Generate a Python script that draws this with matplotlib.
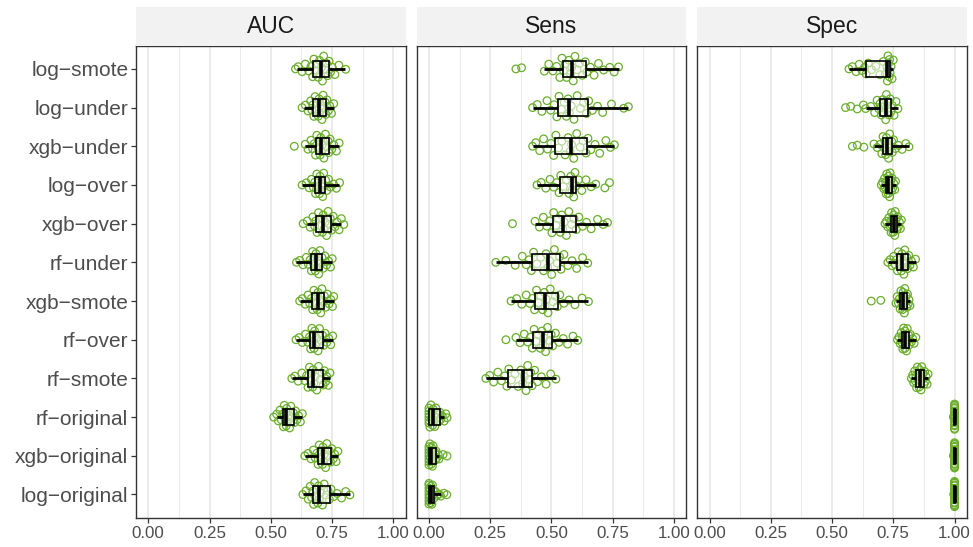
import numpy as np
import matplotlib
matplotlib.use("Agg")
import matplotlib.pyplot as plt

plt.rcParams['font.family'] = ['Liberation Sans', 'DejaVu Sans']

# ---------------- data ----------------
models = ["log\u2212smote", "log\u2212under", "xgb\u2212under", "log\u2212over", "xgb\u2212over",
          "rf\u2212under", "xgb\u2212smote", "rf\u2212over", "rf\u2212smote", "rf\u2212original",
          "xgb\u2212original", "log\u2212original"]
metrics = ["AUC", "Sens", "Spec"]
x_ticks = [0.0, 0.25, 0.5, 0.75, 1.0]
x_tick_labels = ["0.00", "0.25", "0.50", "0.75", "1.00"]

# box statistics (order = models): whisker low, Q1, median, Q3, whisker high
auc_lo  = [0.607, 0.634, 0.641, 0.628, 0.648, 0.605, 0.618, 0.603, 0.587, 0.525, 0.640, 0.632]
auc_q1  = [0.673, 0.673, 0.683, 0.680, 0.685, 0.665, 0.667, 0.662, 0.651, 0.550, 0.692, 0.673]
auc_med = [0.705, 0.696, 0.705, 0.700, 0.714, 0.684, 0.693, 0.678, 0.673, 0.564, 0.714, 0.696]
auc_q3  = [0.739, 0.726, 0.737, 0.723, 0.744, 0.709, 0.719, 0.712, 0.714, 0.596, 0.744, 0.740]
auc_hi  = [0.805, 0.757, 0.780, 0.780, 0.787, 0.750, 0.757, 0.754, 0.741, 0.628, 0.773, 0.823]

sens_lo  = [0.471, 0.423, 0.423, 0.441, 0.433, 0.273, 0.335, 0.355, 0.232, 0.000, 0.000, 0.000]
sens_q1  = [0.546, 0.525, 0.515, 0.535, 0.505, 0.419, 0.433, 0.426, 0.321, 0.000, 0.000, 0.000]
sens_med = [0.583, 0.573, 0.580, 0.583, 0.546, 0.485, 0.474, 0.464, 0.382, 0.018, 0.010, 0.008]
sens_q3  = [0.641, 0.648, 0.645, 0.600, 0.600, 0.536, 0.525, 0.502, 0.420, 0.045, 0.028, 0.020]
sens_hi  = [0.774, 0.814, 0.756, 0.682, 0.730, 0.648, 0.651, 0.607, 0.518, 0.062, 0.041, 0.048]

spec_lo  = [0.569, 0.637, 0.671, 0.700, 0.716, 0.728, 0.760, 0.767, 0.824, 0.996, 0.996, 0.997]
spec_q1  = [0.640, 0.695, 0.709, 0.719, 0.740, 0.767, 0.778, 0.787, 0.842, 0.999, 0.999, 0.999]
spec_med = [0.726, 0.719, 0.726, 0.730, 0.752, 0.787, 0.790, 0.798, 0.857, 1.000, 1.000, 1.000]
spec_q3  = [0.735, 0.740, 0.746, 0.744, 0.764, 0.808, 0.805, 0.814, 0.876, 1.000, 1.000, 1.000]
spec_hi  = [0.750, 0.769, 0.814, 0.760, 0.783, 0.842, 0.818, 0.842, 0.892, 1.000, 1.000, 1.000]

# individual resample values
auc_log_smote = [0.601, 0.612, 0.628, 0.641, 0.655, 0.664, 0.671, 0.676, 0.684, 0.689, 0.694, 0.699, 0.703,
                 0.707, 0.711, 0.716, 0.722, 0.728, 0.733, 0.738, 0.744, 0.751, 0.762, 0.778, 0.806]
auc_log_under = [0.628, 0.641, 0.652, 0.663, 0.668, 0.672, 0.676, 0.681, 0.687, 0.690, 0.694, 0.697, 0.699,
                 0.703, 0.709, 0.714, 0.718, 0.722, 0.725, 0.729, 0.735, 0.741, 0.748, 0.757]
auc_xgb_under = [0.596, 0.641, 0.652, 0.664, 0.671, 0.678, 0.683, 0.688, 0.693, 0.698, 0.702, 0.704, 0.707,
                 0.711, 0.717, 0.723, 0.729, 0.734, 0.737, 0.742, 0.749, 0.757, 0.768, 0.779]
auc_log_over = [0.628, 0.645, 0.657, 0.666, 0.674, 0.679, 0.683, 0.688, 0.692, 0.696, 0.699, 0.701, 0.704,
                0.708, 0.712, 0.716, 0.721, 0.724, 0.729, 0.736, 0.744, 0.756, 0.768, 0.781]
auc_xgb_over = [0.632, 0.649, 0.661, 0.672, 0.679, 0.684, 0.689, 0.695, 0.701, 0.707, 0.711, 0.714, 0.717,
                0.722, 0.728, 0.734, 0.739, 0.743, 0.748, 0.755, 0.762, 0.771, 0.779, 0.788, 0.798]
auc_rf_under = [0.605, 0.618, 0.632, 0.645, 0.654, 0.661, 0.666, 0.671, 0.675, 0.679, 0.682, 0.684, 0.687,
                0.691, 0.696, 0.701, 0.705, 0.709, 0.714, 0.721, 0.728, 0.736, 0.744, 0.751]
auc_xgb_smote = [0.618, 0.629, 0.641, 0.652, 0.659, 0.666, 0.671, 0.676, 0.681, 0.686, 0.690, 0.693, 0.696,
                 0.700, 0.704, 0.709, 0.714, 0.719, 0.724, 0.731, 0.738, 0.745, 0.752, 0.757]
auc_rf_over = [0.603, 0.616, 0.629, 0.642, 0.651, 0.658, 0.663, 0.668, 0.672, 0.675, 0.677, 0.679, 0.682,
               0.687, 0.693, 0.699, 0.706, 0.711, 0.716, 0.722, 0.729, 0.737, 0.745, 0.753]
auc_rf_smote = [0.586, 0.598, 0.612, 0.627, 0.639, 0.646, 0.652, 0.658, 0.663, 0.667, 0.671, 0.673, 0.676,
                0.681, 0.688, 0.695, 0.703, 0.709, 0.714, 0.719, 0.724, 0.729, 0.735, 0.742]
auc_rf_original = [0.512, 0.524, 0.531, 0.538, 0.543, 0.548, 0.552, 0.555, 0.558, 0.561, 0.563, 0.565, 0.568,
                   0.572, 0.577, 0.582, 0.587, 0.592, 0.596, 0.601, 0.607, 0.614, 0.621, 0.629]
auc_xgb_original = [0.639, 0.652, 0.664, 0.674, 0.682, 0.688, 0.693, 0.698, 0.703, 0.707, 0.711, 0.713, 0.716,
                    0.719, 0.724, 0.729, 0.734, 0.739, 0.744, 0.749, 0.755, 0.761, 0.767, 0.774]
auc_log_original = [0.631, 0.644, 0.653, 0.661, 0.667, 0.671, 0.675, 0.679, 0.684, 0.688, 0.692, 0.695, 0.698,
                    0.703, 0.711, 0.718, 0.726, 0.733, 0.739, 0.746, 0.757, 0.771, 0.789, 0.806, 0.823]

sens_log_smote = [0.355, 0.378, 0.471, 0.489, 0.506, 0.521, 0.534, 0.543, 0.549, 0.556, 0.562, 0.571, 0.578,
                  0.583, 0.589, 0.596, 0.605, 0.614, 0.626, 0.638, 0.645, 0.659, 0.674, 0.692, 0.713, 0.738,
                  0.756, 0.774]
sens_log_under = [0.423, 0.442, 0.461, 0.482, 0.497, 0.511, 0.522, 0.531, 0.541, 0.552, 0.561, 0.568, 0.573,
                  0.581, 0.592, 0.605, 0.618, 0.631, 0.643, 0.652, 0.667, 0.688, 0.709, 0.745, 0.795, 0.814]
sens_xgb_under = [0.423, 0.436, 0.452, 0.468, 0.484, 0.498, 0.509, 0.518, 0.529, 0.542, 0.556, 0.568, 0.576,
                  0.582, 0.591, 0.603, 0.617, 0.629, 0.641, 0.649, 0.661, 0.678, 0.697, 0.722, 0.741, 0.757]
sens_log_over = [0.441, 0.458, 0.477, 0.494, 0.509, 0.521, 0.531, 0.538, 0.549, 0.561, 0.572, 0.579, 0.583,
                 0.587, 0.591, 0.596, 0.601, 0.611, 0.624, 0.641, 0.662, 0.681, 0.718, 0.737]
sens_xgb_over = [0.341, 0.433, 0.451, 0.467, 0.481, 0.493, 0.502, 0.509, 0.518, 0.527, 0.536, 0.542, 0.546,
                 0.552, 0.561, 0.571, 0.582, 0.592, 0.601, 0.612, 0.627, 0.643, 0.662, 0.688, 0.711, 0.729]
sens_rf_under = [0.273, 0.314, 0.352, 0.381, 0.397, 0.409, 0.418, 0.427, 0.441, 0.456, 0.468, 0.478, 0.485,
                 0.492, 0.501, 0.512, 0.524, 0.533, 0.539, 0.551, 0.567, 0.584, 0.603, 0.627, 0.648]
sens_xgb_smote = [0.335, 0.358, 0.379, 0.397, 0.412, 0.423, 0.431, 0.439, 0.447, 0.456, 0.464, 0.471, 0.474,
                  0.479, 0.486, 0.495, 0.506, 0.516, 0.524, 0.534, 0.551, 0.572, 0.596, 0.625, 0.651]
sens_rf_over = [0.314, 0.355, 0.372, 0.389, 0.403, 0.414, 0.422, 0.429, 0.437, 0.446, 0.455, 0.461, 0.464,
                0.469, 0.476, 0.484, 0.492, 0.499, 0.505, 0.516, 0.531, 0.548, 0.566, 0.588, 0.607]
sens_rf_smote = [0.232, 0.248, 0.264, 0.281, 0.296, 0.309, 0.318, 0.326, 0.337, 0.351, 0.364, 0.375, 0.382,
                 0.389, 0.396, 0.403, 0.409, 0.415, 0.421, 0.431, 0.443, 0.459, 0.478, 0.497, 0.518]
sens_rf_original = [0.0, 0.0, 0.0, 0.0, 0.0, 0.0, 0.004, 0.008, 0.009, 0.012, 0.015, 0.017, 0.018, 0.021,
                    0.024, 0.028, 0.032, 0.037, 0.041, 0.045, 0.049, 0.054, 0.062, 0.069, 0.074]
sens_xgb_original = [0.0, 0.0, 0.0, 0.0, 0.0, 0.0, 0.0, 0.004, 0.006, 0.008, 0.009, 0.010, 0.010, 0.012,
                     0.014, 0.017, 0.021, 0.024, 0.027, 0.029, 0.033, 0.038, 0.041, 0.058, 0.074]
sens_log_original = [0.0, 0.0, 0.0, 0.0, 0.0, 0.0, 0.0, 0.0, 0.003, 0.005, 0.007, 0.008, 0.009, 0.010,
                     0.012, 0.014, 0.016, 0.019, 0.021, 0.026, 0.033, 0.041, 0.048, 0.061, 0.073]

spec_log_smote = [0.569, 0.583, 0.598, 0.611, 0.622, 0.633, 0.639, 0.648, 0.661, 0.679, 0.695, 0.709, 0.718,
                  0.724, 0.726, 0.728, 0.729, 0.731, 0.733, 0.735, 0.737, 0.741, 0.745, 0.750]
spec_log_under = [0.555, 0.576, 0.603, 0.628, 0.637, 0.658, 0.674, 0.684, 0.691, 0.696, 0.701, 0.707, 0.712,
                  0.716, 0.719, 0.722, 0.726, 0.729, 0.733, 0.737, 0.741, 0.746, 0.753, 0.761, 0.769]
spec_xgb_under = [0.583, 0.603, 0.630, 0.671, 0.684, 0.696, 0.703, 0.708, 0.712, 0.716, 0.719, 0.722, 0.725,
                  0.727, 0.731, 0.735, 0.739, 0.743, 0.746, 0.751, 0.759, 0.771, 0.786, 0.801, 0.814]
spec_log_over = [0.701, 0.706, 0.711, 0.714, 0.717, 0.719, 0.721, 0.723, 0.725, 0.727, 0.729, 0.730, 0.731,
                 0.733, 0.735, 0.737, 0.739, 0.741, 0.743, 0.745, 0.748, 0.752, 0.756, 0.759]
spec_xgb_over = [0.716, 0.722, 0.727, 0.732, 0.736, 0.739, 0.741, 0.743, 0.745, 0.747, 0.749, 0.751, 0.752,
                 0.754, 0.756, 0.758, 0.761, 0.763, 0.765, 0.768, 0.771, 0.775, 0.779, 0.783]
spec_rf_under = [0.728, 0.737, 0.745, 0.752, 0.758, 0.763, 0.767, 0.771, 0.776, 0.779, 0.783, 0.785, 0.787,
                 0.790, 0.793, 0.797, 0.801, 0.805, 0.808, 0.813, 0.818, 0.824, 0.832, 0.841]
spec_xgb_smote = [0.660, 0.699, 0.761, 0.766, 0.771, 0.775, 0.778, 0.781, 0.784, 0.786, 0.788, 0.790, 0.791,
                  0.793, 0.795, 0.797, 0.800, 0.803, 0.805, 0.808, 0.811, 0.814, 0.818]
spec_rf_over = [0.767, 0.773, 0.778, 0.782, 0.785, 0.787, 0.789, 0.792, 0.794, 0.796, 0.797, 0.798, 0.800,
                0.802, 0.804, 0.807, 0.810, 0.813, 0.815, 0.819, 0.824, 0.829, 0.835, 0.842]
spec_rf_smote = [0.824, 0.829, 0.833, 0.837, 0.840, 0.842, 0.845, 0.848, 0.851, 0.853, 0.855, 0.857, 0.858,
                 0.860, 0.863, 0.866, 0.869, 0.872, 0.875, 0.878, 0.881, 0.884, 0.888, 0.892]
spec_rf_original = [0.996, 0.997, 0.998, 0.998, 0.999, 0.999, 0.999, 1.0, 1.0, 1.0, 1.0, 1.0, 1.0, 1.0,
                    1.0, 1.0, 1.0, 1.0, 1.0, 1.0, 1.0, 1.0, 1.0, 1.0]
spec_xgb_original = [0.996, 0.997, 0.998, 0.999, 0.999, 1.0, 1.0, 1.0, 1.0, 1.0, 1.0, 1.0, 1.0, 1.0,
                     1.0, 1.0, 1.0, 1.0, 1.0, 1.0, 1.0, 1.0, 1.0, 1.0]
spec_log_original = [0.997, 0.998, 0.999, 0.999, 1.0, 1.0, 1.0, 1.0, 1.0, 1.0, 1.0, 1.0, 1.0, 1.0,
                     1.0, 1.0, 1.0, 1.0, 1.0, 1.0, 1.0, 1.0, 1.0, 1.0]

auc_points = [auc_log_smote, auc_log_under, auc_xgb_under, auc_log_over, auc_xgb_over, auc_rf_under,
              auc_xgb_smote, auc_rf_over, auc_rf_smote, auc_rf_original, auc_xgb_original, auc_log_original]
sens_points = [sens_log_smote, sens_log_under, sens_xgb_under, sens_log_over, sens_xgb_over, sens_rf_under,
               sens_xgb_smote, sens_rf_over, sens_rf_smote, sens_rf_original, sens_xgb_original,
               sens_log_original]
spec_points = [spec_log_smote, spec_log_under, spec_xgb_under, spec_log_over, spec_xgb_over, spec_rf_under,
               spec_xgb_smote, spec_rf_over, spec_rf_smote, spec_rf_original, spec_xgb_original,
               spec_log_original]

panels = [
    ("AUC", auc_points, (auc_lo, auc_q1, auc_med, auc_q3, auc_hi)),
    ("Sens", sens_points, (sens_lo, sens_q1, sens_med, sens_q3, sens_hi)),
    ("Spec", spec_points, (spec_lo, spec_q1, spec_med, spec_q3, spec_hi)),
]

# ---------------- helpers (layout only) ----------------
def van_der_corput(n, base=2):
    out = []
    for k in range(1, n + 1):
        q, denom, x = k, 1.0, 0.0
        while q:
            denom *= base
            q, r = divmod(q, base)
            x += r / denom
        out.append(x)
    return np.array(out)


def quasirandom_offsets(vals, width=0.36):
    v = np.asarray(vals, dtype=float)
    n = len(v)
    sd = v.std(ddof=1) if n > 1 else 0.0
    iqr = np.subtract(*np.percentile(v, [75, 25]))
    lo = min(sd, iqr / 1.34) if iqr > 0 else sd
    if lo <= 0:
        lo = sd if sd > 0 else 1.0
    bw = 0.9 * lo * n ** (-0.2)
    d = np.exp(-0.5 * ((v[:, None] - v[None, :]) / bw) ** 2).sum(axis=1)
    d = d / d.max()
    order = np.argsort(v, kind="mergesort")
    vdc = van_der_corput(n)
    offs = np.empty(n)
    offs[order] = (vdc - 0.5) * 2 * width * d[order]
    return offs


# ---------------- figure ----------------
W, H = 973, 547
fig = plt.figure(figsize=(W / 100, H / 100), dpi=100)
fig.patch.set_facecolor("white")

panel_left = [136.0, 416.7, 697.3]
panel_w = 269.5
p_top, p_bot, s_top = 45.7, 517.7, 6.7
green = "#6AAE2C"
ypos = np.arange(1, len(models) + 1)

for k, (name, pts, stats) in enumerate(panels):
    ax = fig.add_axes([panel_left[k] / W, 1 - p_bot / H, panel_w / W, (p_bot - p_top) / H])
    ax.set_xlim(-0.05, 1.05)
    ax.set_ylim(12.6, 0.4)
    ax.set_facecolor("white")
    ax.set_xticks(x_ticks)
    ax.set_xticklabels(x_tick_labels)
    ax.set_xticks([0.125, 0.375, 0.625, 0.875], minor=True)
    ax.grid(which="major", axis="x", color="#EBEBEB", lw=1.4)
    ax.grid(which="minor", axis="x", color="#EBEBEB", lw=0.7)
    ax.grid(which="both", axis="y", visible=False)
    ax.set_axisbelow(True)
    ax.tick_params(axis="x", which="major", length=3.5, width=0.9, color="#333333",
                   labelsize=12.2, labelcolor="#4D4D4D", pad=2.5)
    ax.tick_params(axis="x", which="minor", length=0)
    ax.set_yticks(ypos)
    if k == 0:
        ax.set_yticklabels(models)
        ax.tick_params(axis="y", length=3.5, width=0.9, color="#333333",
                       labelsize=15, labelcolor="#4D4D4D", pad=2)
    else:
        ax.set_yticklabels([])
        ax.tick_params(axis="y", length=0)
    for sp in ax.spines.values():
        sp.set_color("#333333")
        sp.set_linewidth(1.0)

    # points
    for i, vals in enumerate(pts):
        offs = quasirandom_offsets(vals)
        ax.scatter(vals, ypos[i] + offs, s=30, facecolors="none", edgecolors=green,
                   linewidths=0.9, zorder=2)

    # boxes
    lo, q1, med, q3, hi = stats
    bstats = [dict(whislo=lo[i], q1=q1[i], med=med[i], q3=q3[i], whishi=hi[i], fliers=[])
              for i in range(len(models))]
    ax.bxp(bstats, positions=ypos, orientation="horizontal", widths=0.42, patch_artist=True,
           showfliers=False, showcaps=False, manage_ticks=False, zorder=3,
           boxprops=dict(facecolor=(1, 1, 1, 0.55), edgecolor="black", linewidth=1.2),
           whiskerprops=dict(color="black", linewidth=2.0, solid_capstyle="butt"),
           medianprops=dict(color="black", linewidth=2.6, solid_capstyle="butt"))

    # strip
    sax = fig.add_axes([panel_left[k] / W, 1 - p_top / H, panel_w / W, (p_top - s_top) / H])
    sax.set_facecolor("#F2F2F2")
    sax.set_xticks([])
    sax.set_yticks([])
    for sp in sax.spines.values():
        sp.set_visible(False)
    sax.text(0.5, 0.5, name, ha="center", va="center", fontsize=16.5, color="#1A1A1A",
             transform=sax.transAxes)

fig.savefig("out.png", dpi=100, facecolor="white")
